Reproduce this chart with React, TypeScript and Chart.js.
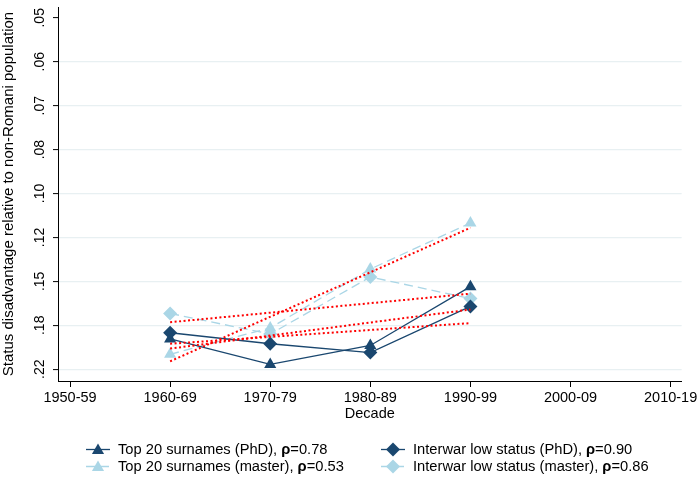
import React, { useEffect, useRef } from 'react';
import { Chart, registerables } from 'chart.js';

Chart.register(...registerables);

// ---- data ----
const decades = ['1950-59', '1960-69', '1970-79', '1980-89', '1990-99', '2000-09', '2010-19'];
// y axis: evenly spaced tick positions (0 = top), labelled with the disadvantage values
const yTickLabels = ['.05', '.06', '.07', '.08', '.10', '.12', '.15', '.18', '.22'];
const observedDecades = ['1960-69', '1970-79', '1980-89', '1990-99'];
// values in axis units (tick positions, 0 = .05 ... 8 = .22)
const top20PhD = [7.31, 7.89, 7.46, 6.12];
const interwarPhD = [7.17, 7.42, 7.62, 6.57];
const top20Master = [7.66, 7.06, 5.72, 4.67];
const interwarMaster = [6.73, 7.2, 5.9, 6.39];
// fitted trend lines (end points)
const fitDecades = ['1960-69', '1990-99'];
const top20PhDFit = [7.53, 6.64];
const interwarPhDFit = [7.42, 6.95];
const top20MasterFit = [7.82, 4.78];
const interwarMasterFit = [6.93, 6.28];
const legendNames = [
  'Top 20 surnames (PhD), ',
  'Interwar low status (PhD), ',
  'Top 20 surnames (master), ',
  'Interwar low status (master), ',
];
const rhoValues = ['0.78', '0.90', '0.53', '0.86'];

const NAVY = 'rgb(26,71,111)';
const LIGHT = 'rgb(170,214,230)';
const RED = 'rgb(255,0,0)';
const GRID = 'rgb(232,240,242)';
const FONT = '"Liberation Sans", Arial, Helvetica, sans-serif';

const toPts = (cats: string[], vals: number[]) =>
  vals.map((v, i) => ({ x: decades.indexOf(cats[i]), y: v }));

function drawMarker(ctx: CanvasRenderingContext2D, shape: string, x: number, y: number, r: number, color: string) {
  ctx.save();
  ctx.fillStyle = color;
  ctx.beginPath();
  if (shape === 'triangle') {
    for (let k = 0; k < 3; k++) {
      const a = (k * 2 * Math.PI) / 3;
      const px = x + Math.sin(a) * r;
      const py = y - Math.cos(a) * r;
      if (k === 0) ctx.moveTo(px, py);
      else ctx.lineTo(px, py);
    }
  } else {
    ctx.moveTo(x, y - r);
    ctx.lineTo(x + r, y);
    ctx.lineTo(x, y + r);
    ctx.lineTo(x - r, y);
  }
  ctx.closePath();
  ctx.fill();
  ctx.restore();
}

const yLabelPlugin = {
  id: 'yLabels',
  afterDraw(chart: any) {
    const ys = chart.scales.y;
    const ctx = chart.ctx as CanvasRenderingContext2D;
    ctx.save();
    ctx.fillStyle = '#000';
    ctx.font = `14px ${FONT}`;
    ctx.textAlign = 'center';
    ctx.textBaseline = 'middle';
    yTickLabels.forEach((lab, i) => {
      const y = ys.getPixelForValue(i);
      ctx.save();
      ctx.translate(40, y);
      ctx.rotate(-Math.PI / 2);
      ctx.fillText(lab, 0, 0);
      ctx.restore();
    });
    ctx.restore();
  },
};

const legendPlugin = {
  id: 'customLegend',
  afterDraw(chart: any) {
    const ctx = chart.ctx as CanvasRenderingContext2D;
    const items = [
      { shape: 'triangle', color: NAVY, dash: [] as number[] },
      { shape: 'diamond', color: NAVY, dash: [] as number[] },
      { shape: 'triangle', color: LIGHT, dash: [9, 5] },
      { shape: 'diamond', color: LIGHT, dash: [9, 5] },
    ];
    const colX = [86, 381];
    const rowY = [449.5, 466.5];
    items.forEach((it, i) => {
      const x0 = colX[i % 2];
      const y = rowY[Math.floor(i / 2)];
      ctx.save();
      ctx.strokeStyle = it.color;
      ctx.lineWidth = 1.3;
      ctx.setLineDash(it.dash);
      ctx.beginPath();
      ctx.moveTo(x0, y);
      ctx.lineTo(x0 + 24, y);
      ctx.stroke();
      ctx.restore();
      drawMarker(ctx, it.shape, x0 + 12, y + (it.shape === 'triangle' ? 1 : 0), 7, it.color);
      ctx.save();
      ctx.fillStyle = '#000';
      ctx.textBaseline = 'middle';
      ctx.textAlign = 'left';
      let tx = x0 + 32;
      ctx.font = `14.7px ${FONT}`;
      ctx.fillText(legendNames[i], tx, y);
      tx += ctx.measureText(legendNames[i]).width;
      ctx.font = `bold 14.7px ${FONT}`;
      ctx.fillText('ρ', tx, y);
      tx += ctx.measureText('ρ').width;
      ctx.font = `14.7px ${FONT}`;
      ctx.fillText('=' + rhoValues[i], tx, y);
      ctx.restore();
    });
  },
};

export default function App() {
  const ref = useRef<HTMLCanvasElement | null>(null);
  useEffect(() => {
    if (!ref.current) return;
    const series = (label: string, vals: number[], color: string, shape: string, dash: number[], order: number) => ({
      label,
      data: toPts(observedDecades, vals),
      borderColor: color,
      backgroundColor: color,
      pointBackgroundColor: color,
      pointBorderColor: color,
      pointBorderWidth: 0,
      pointStyle: shape,
      pointRadius: 7,
      borderWidth: 1.3,
      borderDash: dash,
      tension: 0,
      order,
    });
    const fit = (label: string, vals: number[]) => ({
      label,
      data: toPts(fitDecades, vals),
      borderColor: RED,
      backgroundColor: RED,
      borderWidth: 2,
      borderDash: [2, 2.5],
      pointRadius: 0,
      tension: 0,
      order: 0,
    });
    const chart = new Chart(ref.current, {
      type: 'line',
      data: {
        datasets: [
          fit('fit1', top20PhDFit),
          fit('fit2', interwarPhDFit),
          fit('fit3', top20MasterFit),
          fit('fit4', interwarMasterFit),
          series('Interwar low status (PhD)', interwarPhD, NAVY, 'rectRot', [], 1),
          series('Top 20 surnames (PhD)', top20PhD, NAVY, 'triangle', [], 2),
          series('Top 20 surnames (master)', top20Master, LIGHT, 'triangle', [9, 5], 3),
          series('Interwar low status (master)', interwarMaster, LIGHT, 'rectRot', [9, 5], 4),
        ] as any,
      },
      options: {
        animation: false,
        responsive: false,
        maintainAspectRatio: false,
        layout: { padding: { left: 0, right: 15, top: 0, bottom: 55 } },
        plugins: { legend: { display: false }, tooltip: { enabled: false } },
        scales: {
          x: {
            type: 'linear',
            min: -0.12,
            max: 6.11,
            afterBuildTicks: (s: any) => {
              s.ticks = decades.map((_, i) => ({ value: i }));
            },
            afterFit: (s: any) => {
              s.height = 43;
            },
            ticks: {
              autoSkip: false,
              maxRotation: 0,
              minRotation: 0,
              padding: 2.5,
              color: '#000',
              font: { family: FONT, size: 14.5 },
              callback: (v: any) => decades[Math.round(Number(v))],
            },
            grid: { drawOnChartArea: false, drawTicks: true, tickLength: 6, tickColor: '#000', tickWidth: 1 },
            border: { display: true, color: '#000', width: 1 },
            title: {
              display: true,
              text: 'Decade',
              color: '#000',
              font: { family: FONT, size: 14.5 },
              padding: { top: 0, bottom: 1 },
            },
          },
          y: {
            type: 'linear',
            reverse: true,
            min: -0.246,
            max: 8.268,
            afterBuildTicks: (s: any) => {
              s.ticks = yTickLabels.map((_, i) => ({ value: i }));
            },
            afterFit: (s: any) => {
              s.width = 58;
            },
            ticks: { display: false },
            grid: {
              color: (c: any) => (c.tick && c.tick.value === 0 ? 'rgba(0,0,0,0)' : GRID),
              lineWidth: 1.2,
              drawTicks: true,
              tickLength: 5,
              tickColor: '#000',
              tickWidth: 1,
            },
            border: { display: true, color: '#000', width: 1 },
            title: {
              display: true,
              text: 'Status disadvantage relative to non-Romani population',
              color: '#000',
              font: { family: FONT, size: 15 },
              padding: 0,
            },
          },
        },
      } as any,
      plugins: [yLabelPlugin, legendPlugin],
    });
    return () => chart.destroy();
  }, []);
  return (
    <div style={{ position: 'absolute', left: 0, top: 0, width: 700, height: 479, background: '#fff' }}>
      <canvas ref={ref} width={700} height={479} />
    </div>
  );
}
